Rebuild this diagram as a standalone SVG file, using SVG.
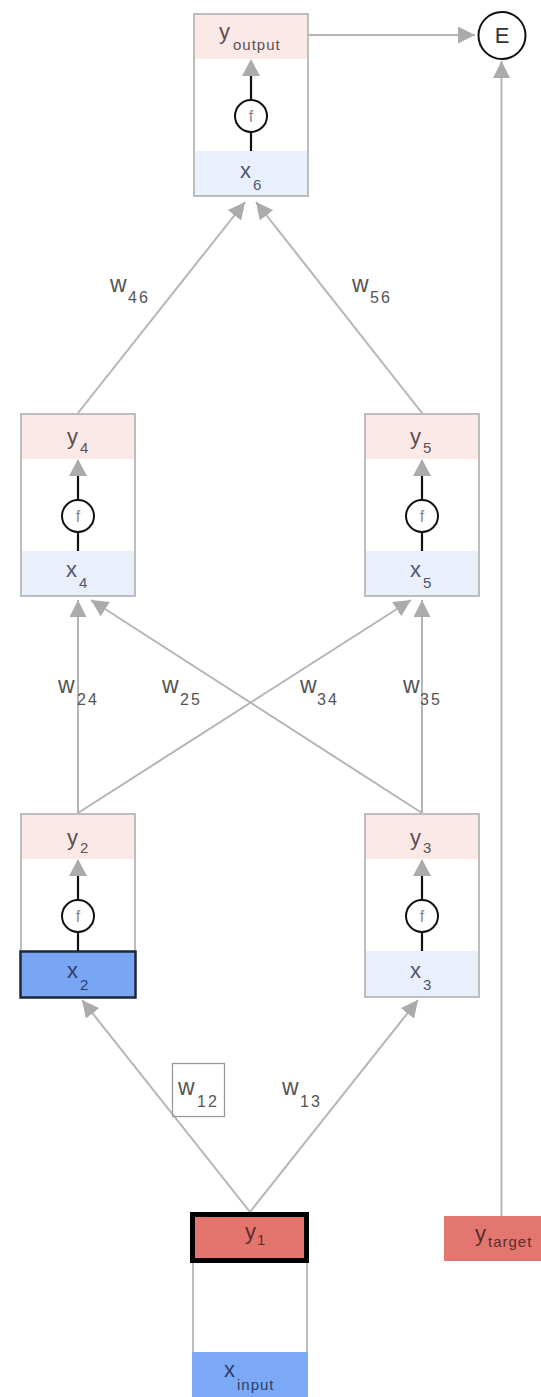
<svg xmlns="http://www.w3.org/2000/svg" width="541" height="1397" viewBox="0 0 541 1397">
<style>
text{font-family:"Liberation Sans",Arial,sans-serif;fill:#555}
.m{font-size:22px}
.w{font-size:23px}
.s{font-size:15px;letter-spacing:1px}
.d{font-size:16px;letter-spacing:2px}
.xl{fill:#4d5670}
.yl{fill:#5e5050}
.pink{fill:#fbe9e7}
.blue{fill:#e9f0fb}
.box{fill:none;stroke:#bdbdbd;stroke-width:2}
.blk{stroke:#111;stroke-width:2.2}
.fc{fill:#fff;stroke:#111;stroke-width:2}
.ft{font-size:16px;fill:#888;text-anchor:middle}
.ih{fill:#ababab}
.con{stroke:#b5b5b5;stroke-width:2;fill:none;marker-end:url(#ah)}
</style>
<defs>
<marker id="ah" markerUnits="userSpaceOnUse" markerWidth="17" markerHeight="17" viewBox="0 0 17 17" refX="17" refY="8.5" orient="auto">
<path d="M0,0 L17,8.5 L0,17 z" fill="#ababab"/>
</marker>
<g id="inner">
<polygon class="ih" points="58,46 49,63 67,63"/>
<line class="blk" x1="58" y1="63" x2="58" y2="87"/>
<line class="blk" x1="58" y1="119" x2="58" y2="138"/>
<circle class="fc" cx="58" cy="103" r="16"/>
<text class="ft" x="58" y="109">f</text>
</g>
</defs>
<rect width="541" height="1397" fill="#fff"/>

<g id="connectors">
<path class="con" d="M308,35 L475,35"/>
<path class="con" d="M501.5,1216 L501.5,61"/>
<path class="con" d="M78,413 L245,202"/>
<path class="con" d="M422,413 L256,202"/>
<path class="con" d="M78,813 L78,600"/>
<path class="con" d="M78,813 L411,600"/>
<path class="con" d="M422,813 L91,600"/>
<path class="con" d="M422,813 L422,600"/>
<path class="con" d="M250,1212 L82,1000"/>
<path class="con" d="M250,1212 L418,1000"/>
</g>

<g id="weights">
<text><tspan class="w" x="110" y="292">w</tspan><tspan class="d" x="128" y="303">46</tspan></text>
<text><tspan class="w" x="352" y="292">w</tspan><tspan class="d" x="370" y="303">56</tspan></text>
<text><tspan class="w" x="58" y="693">w</tspan><tspan class="d" x="77" y="705">24</tspan></text>
<text><tspan class="w" x="162" y="693">w</tspan><tspan class="d" x="180" y="705">25</tspan></text>
<text><tspan class="w" x="300" y="693">w</tspan><tspan class="d" x="317" y="705">34</tspan></text>
<text><tspan class="w" x="403" y="693">w</tspan><tspan class="d" x="420" y="705">35</tspan></text>
<rect x="172.5" y="1063.5" width="52" height="53" fill="none" stroke="#999" stroke-width="1.3"/>
<text><tspan class="w" x="178" y="1095">w</tspan><tspan class="d" x="197" y="1107">12</tspan></text>
<text><tspan class="w" x="282" y="1095">w</tspan><tspan class="d" x="300" y="1107">13</tspan></text>
</g>

<g id="node-output" transform="translate(193,13)">
<rect class="pink" x="0" y="0" width="116" height="46"/>
<rect class="blue" x="0" y="138" width="116" height="46"/>
<use href="#inner"/>
<rect class="box" x="1" y="1" width="114" height="182"/>
<text class="yl"><tspan class="m" x="26" y="26">y</tspan><tspan class="s" x="40" y="36.5">output</tspan></text>
<text class="xl"><tspan class="m" x="47" y="165">x</tspan><tspan class="s" x="60" y="177">6</tspan></text>
</g>

<g id="node-E">
<circle cx="502" cy="35.5" r="23.5" fill="#fff" stroke="#111" stroke-width="2"/>
<text x="502" y="43" text-anchor="middle" style="font-size:22px;fill:#333">E</text>
</g>

<g id="node-4" transform="translate(20,413)">
<rect class="pink" x="0" y="0" width="116" height="46"/>
<rect class="blue" x="0" y="138" width="116" height="46"/>
<use href="#inner"/>
<rect class="box" x="1" y="1" width="114" height="182"/>
<text class="yl"><tspan class="m" x="47" y="31">y</tspan><tspan class="s" x="60" y="40">4</tspan></text>
<text class="xl"><tspan class="m" x="46" y="164">x</tspan><tspan class="s" x="59" y="175">4</tspan></text>
</g>

<g id="node-5" transform="translate(364,413)">
<rect class="pink" x="0" y="0" width="116" height="46"/>
<rect class="blue" x="0" y="138" width="116" height="46"/>
<use href="#inner"/>
<rect class="box" x="1" y="1" width="114" height="182"/>
<text class="yl"><tspan class="m" x="46" y="31">y</tspan><tspan class="s" x="59" y="40">5</tspan></text>
<text class="xl"><tspan class="m" x="46" y="164">x</tspan><tspan class="s" x="59" y="175">5</tspan></text>
</g>

<g id="node-2" transform="translate(20,813)">
<rect class="pink" x="0" y="0" width="116" height="46"/>
<use href="#inner"/>
<rect class="box" x="1" y="1" width="114" height="183"/>
<rect x="0.5" y="138.5" width="115" height="46" fill="#78a6f4" stroke="#1c2738" stroke-width="2.5"/>
<text class="yl"><tspan class="m" x="47" y="32">y</tspan><tspan class="s" x="60" y="40">2</tspan></text>
<text class="xl" style="fill:#2d3f66"><tspan class="m" x="47" y="165">x</tspan><tspan class="s" x="60" y="177">2</tspan></text>
</g>

<g id="node-3" transform="translate(364,813)">
<rect class="pink" x="0" y="0" width="116" height="46"/>
<rect class="blue" x="0" y="138" width="116" height="47"/>
<use href="#inner"/>
<rect class="box" x="1" y="1" width="114" height="183"/>
<text class="yl"><tspan class="m" x="46" y="32">y</tspan><tspan class="s" x="59" y="40">3</tspan></text>
<text class="xl"><tspan class="m" x="46" y="165">x</tspan><tspan class="s" x="59" y="177">3</tspan></text>
</g>

<g id="node-1" transform="translate(192,1212)">
<line x1="1" y1="48" x2="1" y2="190" stroke="#bdbdbd" stroke-width="2"/>
<line x1="115" y1="48" x2="115" y2="190" stroke="#bdbdbd" stroke-width="2"/>
<rect x="0" y="140" width="116" height="50" fill="#7ba9f6"/>
<rect x="0.5" y="2.5" width="114" height="46" fill="#e3756d" stroke="#000" stroke-width="5"/>
<text style="fill:#5a2e2e"><tspan class="m" x="53" y="27">y</tspan><tspan class="s" x="65" y="33">1</tspan></text>
<text style="fill:#2d3f66"><tspan class="m" x="32" y="165">x</tspan><tspan class="s" x="45" y="178">input</tspan></text>
</g>

<g id="node-target">
<rect x="444" y="1216" width="115" height="45" fill="#e3776f"/>
<text style="fill:#5a2e2e"><tspan class="m" x="475" y="1241">y</tspan><tspan class="s" x="488" y="1247">target</tspan></text>
</g>
</svg>
